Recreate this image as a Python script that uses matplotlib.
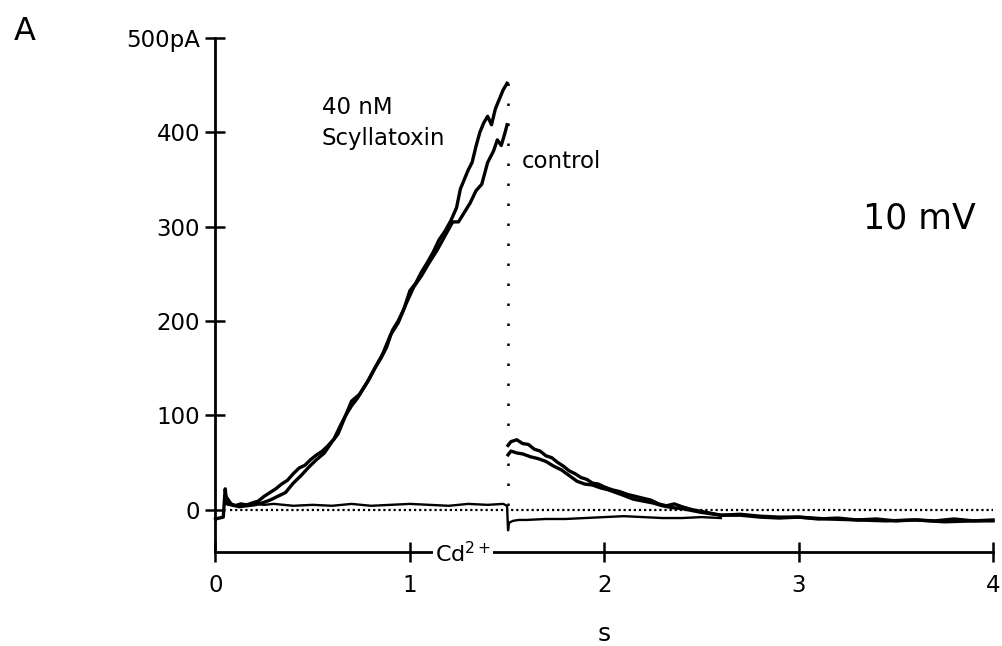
import matplotlib
matplotlib.use("Agg")
import matplotlib.pyplot as plt

plt.rcParams['font.family'] = ['DejaVu Sans']

# ---- data (time in s, current in pA) ----
toxin_x1 = [0.00, 0.02, 0.04, 0.05, 0.055, 0.06, 0.08, 0.10, 0.13, 0.16, 0.19, 0.22, 0.25,
            0.28, 0.31, 0.34, 0.37, 0.40, 0.43, 0.46, 0.49, 0.52, 0.55, 0.58, 0.61, 0.64,
            0.67, 0.70, 0.73, 0.76, 0.79, 0.82, 0.85, 0.88, 0.91, 0.94, 0.97, 1.00, 1.03,
            1.06, 1.09, 1.12, 1.15, 1.18, 1.21, 1.24, 1.26, 1.28, 1.30, 1.32, 1.34, 1.36,
            1.38, 1.40, 1.42, 1.44, 1.46, 1.48, 1.50]
toxin_y1 = [-10, -9, -8, 22, 12, 6, 5, 4, 6, 5, 7, 9, 14,
            18, 22, 27, 31, 38, 44, 47, 53, 58, 62, 68, 75, 88,
            100, 110, 118, 128, 138, 150, 160, 172, 190, 200, 213, 232, 240,
            252, 262, 273, 286, 295, 306, 320, 340, 350, 360, 368, 385, 400,
            410, 417, 408, 425, 435, 445, 452]
toxin_x2 = [1.505, 1.52, 1.55, 1.58, 1.61, 1.64, 1.67, 1.70, 1.73, 1.76, 1.79, 1.82, 1.85,
            1.88, 1.91, 1.94, 1.97, 2.00, 2.04, 2.08, 2.12, 2.16, 2.20, 2.24, 2.28, 2.32,
            2.36, 2.40, 2.45, 2.50, 2.55, 2.60, 2.70, 2.80, 2.90, 3.00, 3.10, 3.20, 3.30,
            3.40, 3.50, 3.60, 3.70, 3.80, 3.90, 4.00]
toxin_y2 = [68, 72, 74, 70, 69, 64, 62, 57, 55, 50, 46, 41, 38,
            34, 32, 28, 27, 24, 21, 19, 16, 14, 12, 10, 6, 4,
            6, 3, 0, -2, -4, -6, -5, -7, -8, -8, -10, -9, -11,
            -10, -12, -11, -12, -10, -12, -11]

control_x1 = [0.05, 0.08, 0.12, 0.16, 0.20, 0.24, 0.28, 0.32, 0.36, 0.40, 0.44, 0.48, 0.52,
              0.56, 0.60, 0.63, 0.66, 0.70, 0.74, 0.78, 0.82, 0.86, 0.90, 0.94, 0.98, 1.02,
              1.06, 1.10, 1.14, 1.18, 1.22, 1.25, 1.28, 1.31, 1.34, 1.37, 1.40, 1.43, 1.45,
              1.47, 1.49, 1.50]
control_y1 = [15, 6, 3, 4, 5, 7, 10, 14, 18, 28, 36, 45, 53,
              60, 72, 80, 95, 115, 122, 135, 150, 165, 185, 198, 218, 236,
              248, 262, 275, 290, 305, 305, 315, 325, 338, 345, 368, 380, 392,
              386, 400, 408]
control_x2 = [1.505, 1.52, 1.55, 1.58, 1.62, 1.66, 1.70, 1.74, 1.78, 1.82, 1.86, 1.90, 1.94,
              1.98, 2.02, 2.06, 2.10, 2.15, 2.20, 2.25, 2.30, 2.35, 2.40, 2.50, 2.60, 2.70,
              2.80, 2.90, 3.00, 3.15, 3.30, 3.45, 3.60, 3.75, 3.90, 4.00]
control_y2 = [58, 62, 60, 59, 56, 54, 51, 46, 42, 36, 30, 27, 26,
              23, 21, 18, 15, 11, 9, 7, 4, 2, 1, -3, -6, -6,
              -8, -9, -8, -10, -11, -12, -11, -13, -12, -12]

cd_x = [0.06, 0.10, 0.15, 0.20, 0.25, 0.30, 0.40, 0.50, 0.60, 0.70, 0.80, 0.90, 1.00,
        1.10, 1.20, 1.30, 1.40, 1.48, 1.50, 1.505, 1.51, 1.53, 1.56, 1.60, 1.70, 1.80,
        1.90, 2.00, 2.10, 2.20, 2.30, 2.40, 2.50, 2.60]
cd_y = [6, 4, 5, 6, 5, 6, 4, 5, 4, 6, 4, 5, 6,
        5, 4, 6, 5, 6, 4, -22, -14, -12, -11, -11, -10, -10,
        -9, -8, -7, -8, -9, -9, -8, -9]

baseline_x = [0.075, 4.0]
baseline_y = [0, 0]
step_x = [1.505, 1.505]
step_y = [452, -15]

x_ticks = [0, 1, 2, 3, 4]
x_tick_labels = ['0', '1', '2', '3', '4']
y_ticks = [0, 100, 200, 300, 400, 500]
y_tick_labels = ['0', '100', '200', '300', '400', '500pA']

W, H = 1003, 646
fig = plt.figure(figsize=(W / 100, H / 100), dpi=100)

def fx(px):
    return px / W

def fy(py):
    return 1 - py / H

ax = fig.add_axes([fx(215.5), fy(552), fx(993) - fx(215.5), fy(38) - fy(552)])
ax.set_xlim(0, 4)
ax.set_ylim(-45, 500)

lw = 2.4
ax.plot(toxin_x1, toxin_y1, color='black', lw=lw, clip_on=False)
ax.plot(toxin_x2, toxin_y2, color='black', lw=lw, clip_on=False)
ax.plot(control_x1, control_y1, color='black', lw=lw, clip_on=False)
ax.plot(control_x2, control_y2, color='black', lw=lw, clip_on=False)
ax.plot(cd_x, cd_y, color='black', lw=1.7, clip_on=False)
ax.plot(baseline_x, baseline_y, color='black', lw=1.6, linestyle=(0, (1, 1.3)), clip_on=False)
ax.plot(step_x, step_y, color='black', lw=1.8, linestyle=(0, (1, 7)), clip_on=False)

for s in ['top', 'right']:
    ax.spines[s].set_visible(False)
ax.spines['left'].set_linewidth(2)
ax.spines['bottom'].set_linewidth(2)
ax.spines['left'].set_bounds(-45, 500)

ax.set_xticks(x_ticks)
ax.set_xticklabels(x_tick_labels)
ax.set_yticks(y_ticks)
ax.set_yticklabels(y_tick_labels)
ax.tick_params(axis='both', direction='inout', length=14, width=1.8, labelsize=16.5)
ax.tick_params(axis='x', pad=9)
ax.tick_params(axis='y', pad=4)
ax.set_xlabel('s', fontsize=18, labelpad=18)

fig.text(fx(14), fy(31), 'A', fontsize=23, ha='left', va='center')
fig.text(fx(322), fy(114), '40 nM', fontsize=16.5, ha='left', va='baseline')
fig.text(fx(322), fy(145), 'Scyllatoxin', fontsize=16.5, ha='left', va='baseline')
fig.text(fx(522), fy(162), 'control', fontsize=16.5, ha='left', va='center')
fig.text(fx(863), fy(219), '10 mV', fontsize=25, ha='left', va='center')
ax.text(1.13, -47, 'Cd$^{2+}$', fontsize=16, ha='left', va='center', zorder=5,
        bbox=dict(facecolor='white', edgecolor='none', pad=1.5))

fig.savefig('out.png', dpi=100, facecolor='white')
